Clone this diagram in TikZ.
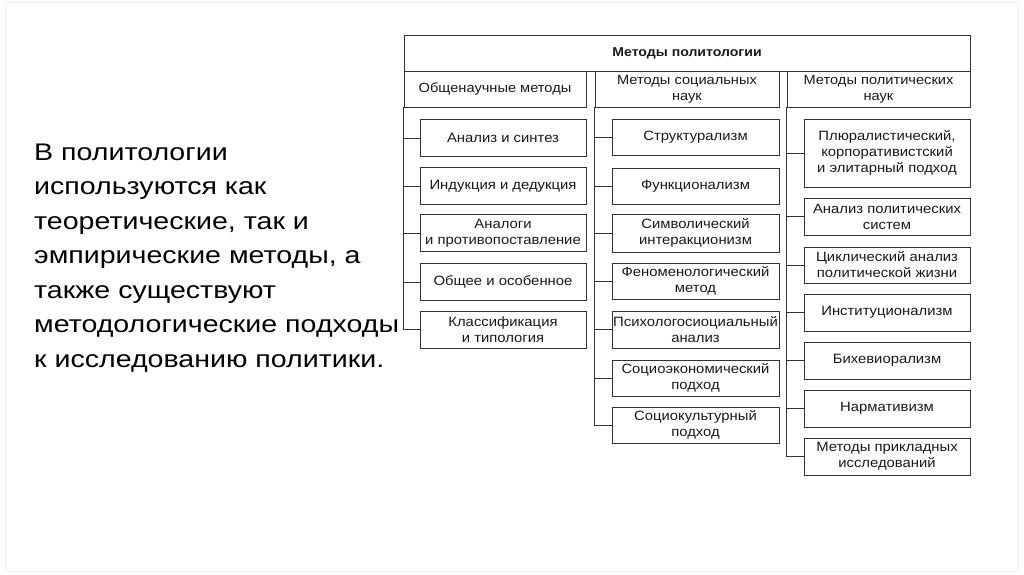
\documentclass[tikz,border=0pt]{standalone}
\usepackage{fontspec}
\setmainfont{Liberation Sans}
\newfontfamily\widefont[FakeStretch=1.1]{Liberation Sans}
\newfontfamily\bigfont[FakeStretch=1.19]{Liberation Sans}
\begin{document}
\begin{tikzpicture}[x=1pt,y=-1pt,
  frm/.style={draw=black!80,line width=0.8pt},
  bx/.style={frm,inner sep=0pt,align=center,font=\widefont\fontsize{13.5}{16}\selectfont,text=black!90},
  lbox/.style={bx,minimum width=166pt,minimum height=37pt},
  hbox/.style={bx,minimum height=36pt,font=\widefont\fontsize{13.3}{16}\selectfont},
  link/.style={draw=black!80,line width=0.8pt}]
\useasboundingbox (0,0) rectangle (1024,574);
\draw[black!6,line width=0.6pt] (5,2) rectangle (1018,571);
% main text
\node[anchor=base west,align=left,inner sep=0pt,
  font=\bigfont\fontsize{24}{34.5}\selectfont] (txt) at (34,367)
  {В политологии\\используются как\\теоретические, так и\\эмпирические методы, а\\также существуют\\методологические подходы\\к исследованию политики.};
% headers
\node[hbox,minimum width=566pt,font=\widefont\bfseries\fontsize{12.8}{15}\selectfont] (top) at (687,53) {Методы политологии};
\node[hbox,minimum width=182pt] (lh) at (495,89) {Общенаучные методы};
\node[hbox,minimum width=184pt] (mh) at (687,89) {Методы социальных\\наук};
\node[hbox,minimum width=183pt] (rh) at (878.5,89) {Методы политических\\наук};
% left column
\node[lbox] (l1) at (503,138) {Анализ и синтез};
\node[lbox] (l2) at (503,186) {Индукция и дедукция};
\node[lbox] (l3) at (503,233) {Аналоги\\и противопоставление};
\node[lbox] (l4) at (503,282) {Общее и особенное};
\node[lbox] (l5) at (503,329.5) {Классификация\\и типология};
% middle column
\node[lbox,minimum width=167pt,minimum height=36pt] (m1) at (695.5,137) {Структурализм};
\node[lbox,minimum width=167pt,minimum height=36pt] (m2) at (695.5,186) {Функционализм};
\node[lbox,minimum width=167pt,minimum height=38pt] (m3) at (695.5,233) {Символический\\интеракционизм};
\node[lbox,minimum width=167pt,minimum height=36pt] (m4) at (695.5,281) {Феноменологический\\метод};
\node[lbox,minimum width=167pt] (m5) at (695.5,329.5) {Психологосиоциальный\\анализ};
\node[lbox,minimum width=167pt,minimum height=36pt] (m6) at (695.5,378) {Социоэкономический\\подход};
\node[lbox,minimum width=167pt,minimum height=36pt] (m7) at (695.5,425) {Социокультурный\\подход};
% right column
\node[lbox,minimum height=68pt] (r1) at (887,153) {Плюралистический,\\корпоративистский\\и элитарный подход};
\node[lbox] (r2) at (887,216.5) {Анализ политических\\систем};
\node[lbox,minimum height=36pt] (r3) at (887,265) {Циклический анализ\\политической жизни};
\node[lbox] (r4) at (887,312.5) {Институционализм};
\node[lbox] (r5) at (887,360.5) {Бихевиорализм};
\node[lbox] (r6) at (887,408.5) {Нармативизм};
\node[lbox] (r7) at (887,456.5) {Методы прикладных\\исследований};
% spines and links
\draw[link] (lh.south west) |- (l5.west);
\foreach \n in {l1,l2,l3,l4} \draw[link] (\n.west) -- (\n.west -| lh.south west);
\draw[link] (mh.south west) |- (m7.west);
\foreach \n in {m1,m2,m3,m4,m5,m6} \draw[link] (\n.west) -- (\n.west -| mh.south west);
\draw[link] (rh.south west) |- (r7.west);
\foreach \n in {r1,r2,r3,r4,r5,r6} \draw[link] (\n.west) -- (\n.west -| rh.south west);
\end{tikzpicture}
\end{document}
